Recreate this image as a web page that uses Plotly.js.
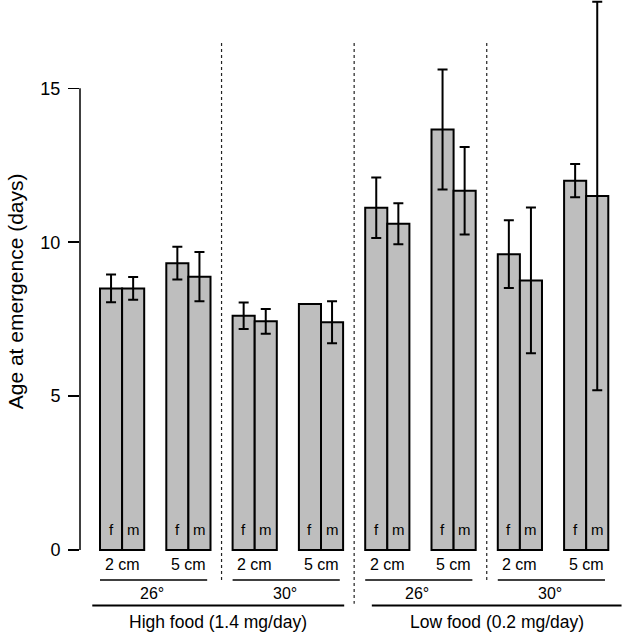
<!DOCTYPE html>
<html><head><meta charset="utf-8">
<script src="https://cdn.plot.ly/plotly-3.0.1.min.js"></script>
<style>html,body{margin:0;padding:0;background:#fff}#chart{width:625px;height:633px}</style>
</head><body><div id="chart"></div>
<script>
// ---- data ----
const foodLabels  = ['High food (1.4 mg/day)', 'Low food (0.2 mg/day)'];
const tempLabels  = ['26°', '30°', '26°', '30°'];
const depthLabels = ['2 cm', '5 cm', '2 cm', '5 cm', '2 cm', '5 cm', '2 cm', '5 cm'];
const sexLabels   = ['f', 'm'];
const femaleMean  = [8.50, 9.32, 7.61, 7.99, 11.12, 13.66, 9.61, 12.00];
const femaleErr   = [0.45, 0.53, 0.43, null, 0.98, 1.95, 1.10, 0.54];
const maleMean    = [8.50, 8.88, 7.43, 7.40, 10.60, 11.67, 8.76, 11.50];
const maleErr     = [0.37, 0.80, 0.40, 0.68, 0.67, 1.42, 2.37, 6.31];
const yTicks      = [0, 5, 10, 15];
const yTitle      = 'Age at emergence (days)';

// ---- positions ----
const fX = depthLabels.map((d, i) => i * 3);
const mX = depthLabels.map((d, i) => i * 3 + 1);
const pairC = depthLabels.map((d, i) => i * 3 + 0.5);
const tempC = tempLabels.map((t, g) => g * 6 + 2);

const FONT = 'Liberation Sans, Arial, Helvetica, sans-serif';
const barStyle = {color: '#bebebe', line: {color: '#000', width: 2}};
const errStyle = (arr) => ({type: 'data', array: arr, visible: true, color: '#000', thickness: 2, width: 5});

const traces = [
  {type: 'bar', x: fX, y: femaleMean, width: 1, marker: barStyle, error_y: errStyle(femaleErr), name: 'f', hoverinfo: 'y'},
  {type: 'bar', x: mX, y: maleMean, width: 1, marker: barStyle, error_y: errStyle(maleErr), name: 'm', hoverinfo: 'y'}
];

const shapes = [];
const annotations = [];
const blk = (size) => ({size: size, color: '#000000', family: FONT});
// y axis line (0 to 15 only)
shapes.push({type: 'line', xref: 'paper', yref: 'y', x0: 0, x1: 0, y0: yTicks[0], y1: yTicks[yTicks.length - 1], line: {color: '#000', width: 1.5}});
// dotted separators
[5, 11, 17].forEach((x, i) => {
  shapes.push({type: 'line', xref: 'x', yref: 'y', x0: x, x1: x, y0: 16.47, y1: i === 1 ? -1.75 : -1.07, line: {color: '#222', width: 1.2, dash: 'dot'}});
});
// f / m labels
fX.forEach((x) => annotations.push({x: x, y: 0.68, text: sexLabels[0], font: blk(15)}));
mX.forEach((x) => annotations.push({x: x, y: 0.68, text: sexLabels[1], font: blk(15)}));
// depth labels
depthLabels.forEach((d, i) => annotations.push({x: pairC[i], y: -0.46, text: d, font: blk(16)}));
// temp underlines and labels
tempLabels.forEach((t, g) => {
  shapes.push({type: 'line', xref: 'x', yref: 'y', x0: tempC[g] - 2.5, x1: tempC[g] + 2.35, y0: -0.975, y1: -0.975, line: {color: '#000', width: 1.3}});
  annotations.push({x: tempC[g] - 0.15, y: -1.40, text: t, font: blk(16)});
});
// food lines and labels
const foodSpan = [[-0.85, 10.55], [11.8, 23.1]];
foodLabels.forEach((t, k) => {
  shapes.push({type: 'line', xref: 'x', yref: 'y', x0: foodSpan[k][0], x1: foodSpan[k][1], y0: -1.80, y1: -1.80, line: {color: '#000', width: 2}});
  annotations.push({x: (foodSpan[k][0] + foodSpan[k][1]) / 2, y: -2.35, text: t, font: blk(17.5)});
});
// y title
annotations.push({xref: 'paper', x: -0.119, y: 8.41, text: yTitle, textangle: -90, font: blk(21)});
annotations.forEach(a => { a.showarrow = false; if (!a.xref) a.xref = 'x'; a.yref = 'y'; a.xanchor = 'center'; a.yanchor = 'middle'; });

const layout = {
  width: 625, height: 633,
  margin: {l: 80, r: 0, t: 0, b: 0, pad: 0},
  paper_bgcolor: '#fff', plot_bgcolor: '#fff',
  showlegend: false,
  barmode: 'overlay',
  font: {family: FONT, color: '#000'},
  xaxis: {range: [-1.405, 23.256], visible: false, fixedrange: true},
  yaxis: {range: [-2.697, 17.87], tickvals: yTicks, ticktext: yTicks.map(String), ticks: 'outside', ticklen: 11, tickwidth: 1.5, tickcolor: '#000',
          ticklabelstandoff: 4, showline: false, showgrid: false, zeroline: false, tickfont: blk(18), fixedrange: true},
  shapes: shapes,
  annotations: annotations
};

Plotly.newPlot('chart', traces, layout, {displayModeBar: false, staticPlot: true});
</script>
</body></html>
